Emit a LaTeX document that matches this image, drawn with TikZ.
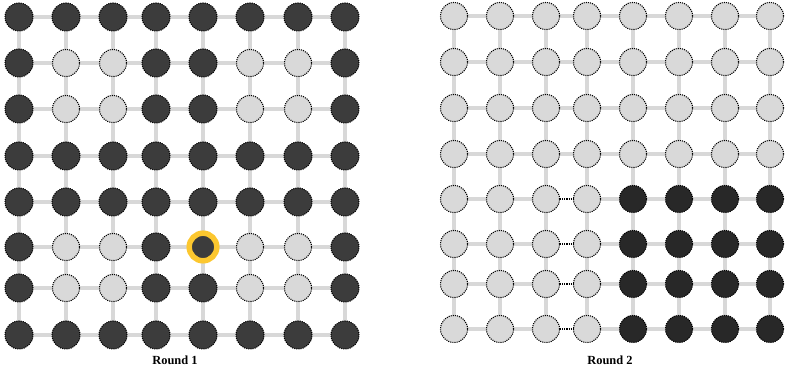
\documentclass[tikz,border=0pt]{standalone}
\usepackage{fontspec}
\setmainfont{Liberation Serif}
\usetikzlibrary{backgrounds}
\definecolor{darkfill}{HTML}{3C3C3C}
\definecolor{darkerfill}{HTML}{282828}
\definecolor{lightfill}{HTML}{D9D9D9}
\definecolor{linegray}{HTML}{D8D8D8}
\definecolor{ringyellow}{HTML}{FCC72F}
\tikzset{
  dot/.style={circle,inner sep=0pt,minimum size=20.3pt,draw=black,line width=0.8pt,dash pattern=on 0.8pt off 0.8pt},
  darkdot/.style={dot,fill=darkfill,minimum size=21pt},
  lightdot/.style={dot,fill=lightfill},
  blackdot/.style={dot,fill=darkerfill},
  ringdot/.style={circle,inner sep=0pt,minimum size=20.7pt,fill=darkfill,draw=ringyellow,line width=4.1pt},
  meshline/.style={draw=linegray,line width=2.4pt,solid},
  joinline/.style={draw=black,line width=0.8pt,dash pattern=on 0.8pt off 0.8pt},
  caption/.style={font=\fontsize{9.3}{11}\selectfont\bfseries}
}
\begin{document}
\begin{tikzpicture}[x=0.75pt,y=-0.75pt]
  \useasboundingbox (0,0) rectangle (785,373);
  % round 1
  \foreach \y [count=\r] in {17,63,109,156,202,247,288,335}
    \foreach \x [count=\c] in {19,66,113,156,203,250,298,345} {
      \pgfmathtruncatemacro\lit{(\r==2||\r==3||\r==6||\r==7)&&(\c==2||\c==3||\c==6||\c==7)}
      \ifnum\lit=1 \def\sty{lightdot}\else\def\sty{darkdot}\fi
      \ifnum\r=6 \ifnum\c=5 \def\sty{ringdot}\fi\fi
      \node[\sty] (L-\r-\c) at (\x,\y) {};
    }
  % round 2
  \foreach \y [count=\r] in {16,62,108,154,199,244,284,329}
    \foreach \x [count=\c] in {454,500,546,587,633,679,725,770} {
      \pgfmathtruncatemacro\lit{(\r>4)&&(\c>4)}
      \ifnum\lit=1 \def\sty{blackdot}\else\def\sty{lightdot}\fi
      \node[\sty] (R-\r-\c) at (\x,\y) {};
    }
  % grid edges
  \begin{scope}[on background layer]
    \foreach \i in {1,...,8}
      \foreach \j/\k in {1/2,2/3,3/4,4/5,5/6,6/7,7/8} {
        \path[meshline] (L-\i-\j.center) -- (L-\i-\k.center);
        \path[meshline] (L-\j-\i.center) -- (L-\k-\i.center);
        \path[meshline] (R-\j-\i.center) -- (R-\k-\i.center);
      }
    \foreach \i in {1,...,8}
      \foreach \j/\k in {1/2,2/3,4/5,5/6,6/7,7/8}
        \path[meshline] (R-\i-\j.center) -- (R-\i-\k.center);
    \foreach \i in {1,...,4}
      \path[meshline] (R-\i-3.center) -- (R-\i-4.center);
  \end{scope}
  \foreach \i in {5,...,8}
    \path[joinline] (R-\i-3) -- (R-\i-4);
  \node[caption] (cap1) at (175,360) {Round 1};
  \node[caption] (cap2) at (610,360) {Round 2};
\end{tikzpicture}
\end{document}
